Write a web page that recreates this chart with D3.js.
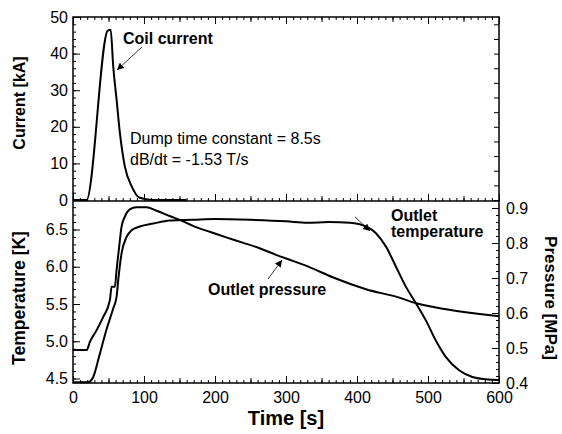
<!DOCTYPE html>
<html lang="en">
<head>
<meta charset="utf-8">
<title>Coil current, outlet temperature and pressure</title>
<script src="https://cdn.jsdelivr.net/npm/d3@7"></script>
<style>
  body { margin: 0; background: #fff; }
  svg { font-family: "Liberation Sans", Arial, sans-serif; }
  .lbl { font-weight: bold; }
</style>
</head>
<body>
<script>
// Data
// Coil current [kA] against time [s]
var currentTime = [0, 19, 49, 53, 56.7, 61.4, 66, 73, 82.5, 94, 112, 160];
var currentKA   = [0, 0, 46.3, 46.5, 36.4, 27.4, 18.4, 9.2, 3.8, 0.6, 0, 0];

// Outlet temperature [K]
var tempTime = [0, 21.5, 28.5, 38, 47, 56.6, 61.4, 63.7, 68.4, 75.5, 82.5, 94, 113, 136, 169, 200, 250, 300,
                330, 360, 390, 412.6, 426.7, 440.8, 454.9, 469, 483, 497, 511, 525, 543.8, 562.5, 581, 600];
var tempK    = [4.45, 4.45, 4.52, 4.84, 5.15, 5.44, 5.6, 5.82, 6.18, 6.4, 6.49, 6.54, 6.58, 6.62, 6.63, 6.64, 6.63, 6.61,
                6.59, 6.6, 6.59, 6.54, 6.45, 6.27, 6.0, 5.73, 5.51, 5.28, 5.01, 4.79, 4.61, 4.52, 4.49, 4.48];

// Outlet pressure [MPa]
var presTime = [0, 19.2, 23.9, 33.3, 42.6, 52, 54.4, 59, 61.4, 65, 68.4, 73, 80, 89.5, 103.5, 117.6, 136.3, 152.7,
                169, 192.5, 216, 239, 262.8, 286, 309.5, 333, 365.7, 412.6, 459.5, 483, 506, 530, 553, 600];
var presMPa  = [0.494, 0.494, 0.518, 0.551, 0.589, 0.637, 0.675, 0.675, 0.723, 0.789, 0.847, 0.875, 0.896, 0.902, 0.902, 0.892, 0.877, 0.864,
                0.849, 0.832, 0.816, 0.801, 0.785, 0.766, 0.749, 0.731, 0.702, 0.668, 0.644, 0.628, 0.618, 0.609, 0.602, 0.591];

// Tick values
var timeTicks = [0, 100, 200, 300, 400, 500, 600];
var currentTicks = [0, 10, 20, 30, 40, 50];
var tempTicks = [4.5, 5.0, 5.5, 6.0, 6.5];
var presTicks = [0.4, 0.5, 0.6, 0.7, 0.8, 0.9];

var w = 562, h = 434;
var left = 73, right = 499;
var topY = 17, midY = 201, botY = 383;

var svg = d3.select("body").append("svg")
  .attr("width", w)
  .attr("height", h);

// Scales
var x = d3.scaleLinear().domain([0, 600]).range([left, right]);
var yCur = d3.scaleLinear().domain([0, 50]).range([200, topY]);
var yTemp = d3.scaleLinear().domain([4.5, 6.5]).range([378.5, 229.5]);
var yPres = d3.scaleLinear().domain([0.4, 0.9]).range([botY, 208]);

function noDomain(g) { g.select(".domain").remove(); g.selectAll("line").attr("stroke", "#000"); }

function ticksOnly(axis, values, size) {
  return axis.tickValues(values).tickSize(-size).tickFormat("");
}

//Time ticks on the three horizontal axes
[[topY, "top"], [midY, "bottom"], [botY, "bottom"]].forEach(function(a) {
  var mk = a[1] == "top" ? d3.axisTop : d3.axisBottom;
  svg.append("g").attr("transform", "translate(0," + a[0] + ")")
    .call(ticksOnly(mk(x), d3.range(0, 601, 10), 3)).call(noDomain);
  svg.append("g").attr("transform", "translate(0," + a[0] + ")")
    .call(ticksOnly(mk(x), d3.range(50, 600, 100), 5)).call(noDomain);
  svg.append("g").attr("transform", "translate(0," + a[0] + ")")
    .call(ticksOnly(mk(x), timeTicks, 7)).call(noDomain);
});

//Time labels
svg.append("g").attr("transform", "translate(0," + botY + ")")
  .call(d3.axisBottom(x).tickValues(timeTicks).tickSize(0).tickPadding(9))
  .call(noDomain)
  .selectAll("text").attr("font-size", "16px").attr("font-family", null);

//Current axis (left) and plain ticks on the right
svg.append("g").attr("transform", "translate(" + left + ",0)")
  .call(ticksOnly(d3.axisLeft(yCur), d3.range(0, 51, 2), 3)).call(noDomain);
svg.append("g").attr("transform", "translate(" + left + ",0)")
  .call(d3.axisLeft(yCur).tickValues(currentTicks).tickSize(-7).tickPadding(5))
  .call(noDomain)
  .selectAll("text").attr("font-size", "16px").attr("font-family", null);
svg.append("g").attr("transform", "translate(" + right + ",0)")
  .call(ticksOnly(d3.axisRight(yCur), d3.range(0, 50, 4), 5)).call(noDomain);

//Temperature axis (left)
svg.append("g").attr("transform", "translate(" + left + ",0)")
  .call(ticksOnly(d3.axisLeft(yTemp), d3.range(4.5, 6.85, 0.1).filter(function(v) { return yTemp(v) > midY + 1; }), 3))
  .call(noDomain);
svg.append("g").attr("transform", "translate(" + left + ",0)")
  .call(d3.axisLeft(yTemp).tickValues(tempTicks).tickSize(-7).tickPadding(5).tickFormat(d3.format(".1f")))
  .call(noDomain)
  .selectAll("text").attr("font-size", "16px").attr("font-family", null);

//Pressure axis (right)
svg.append("g").attr("transform", "translate(" + right + ",0)")
  .call(ticksOnly(d3.axisRight(yPres), d3.range(0.4, 0.915, 0.02), 3)).call(noDomain);
svg.append("g").attr("transform", "translate(" + right + ",0)")
  .call(d3.axisRight(yPres).tickValues(presTicks).tickSize(-7).tickPadding(7).tickFormat(d3.format(".1f")))
  .call(noDomain)
  .selectAll("text").attr("font-size", "16px").attr("font-family", null);

//Frames
svg.append("rect")
  .attr("x", left).attr("y", topY)
  .attr("width", right - left).attr("height", botY - topY)
  .attr("fill", "none").attr("stroke", "#000").attr("stroke-width", 1.5);
svg.append("line")
  .attr("x1", left).attr("x2", right).attr("y1", midY).attr("y2", midY)
  .attr("stroke", "#000").attr("stroke-width", 1.5);

//Curves
function curve(ts, vs, ys) {
  return d3.line()
    .x(function(d, i) { return x(ts[i]); })
    .y(function(d, i) { return ys(vs[i]); })
    .curve(d3.curveMonotoneX)(vs);
}
[[currentTime, currentKA, yCur], [tempTime, tempK, yTemp], [presTime, presMPa, yPres]].forEach(function(c) {
  svg.append("path")
    .attr("d", curve(c[0], c[1], c[2]))
    .attr("fill", "none")
    .attr("stroke", "#000")
    .attr("stroke-width", 2)
    .attr("stroke-linejoin", "round");
});

//Arrow heads
svg.append("defs").append("marker")
  .attr("id", "head")
  .attr("viewBox", "0 0 10 10")
  .attr("refX", 10).attr("refY", 5)
  .attr("markerWidth", 7).attr("markerHeight", 7)
  .attr("markerUnits", "userSpaceOnUse")
  .attr("orient", "auto")
  .append("path").attr("d", "M0,0L10,5L0,10z").attr("fill", "#000");

function arrow(x1, y1, x2, y2) {
  svg.append("line")
    .attr("x1", x1).attr("y1", y1).attr("x2", x2).attr("y2", y2)
    .attr("stroke", "#000").attr("stroke-width", 0.8)
    .attr("marker-end", "url(#head)");
}

//Annotations
function text(s, tx, ty, size, bold) {
  return svg.append("text")
    .attr("x", tx).attr("y", ty)
    .attr("font-size", size + "px")
    .attr("font-weight", bold ? "bold" : "normal")
    .text(s);
}
text("Coil current", 123, 44, 16, true);
arrow(142, 47, 117, 70);
text("Dump time constant = 8.5s", 130, 144, 16, false);
text("dB/dt = -1.53 T/s", 130, 165, 16, false);
text("Outlet pressure", 208, 295, 16, true);
arrow(268, 279, 282, 260);
text("Outlet", 391, 221, 16, true);
text("temperature", 391, 237, 16, true);
arrow(355, 217, 370, 231);

//Axis titles
svg.append("text").attr("class", "lbl")
  .attr("transform", "translate(25,103) rotate(-90)")
  .attr("text-anchor", "middle").attr("font-size", "16px")
  .text("Current [kA]");
svg.append("text").attr("class", "lbl")
  .attr("transform", "translate(25,298) rotate(-90)")
  .attr("text-anchor", "middle").attr("font-size", "17.5px")
  .text("Temperature [K]");
svg.append("text").attr("class", "lbl")
  .attr("transform", "translate(545,298) rotate(90)")
  .attr("text-anchor", "middle").attr("font-size", "17px")
  .text("Pressure [MPa]");
svg.append("text").attr("class", "lbl")
  .attr("x", (left + right) / 2).attr("y", 425)
  .attr("text-anchor", "middle").attr("font-size", "20px")
  .text("Time [s]");
</script>
</body>
</html>
